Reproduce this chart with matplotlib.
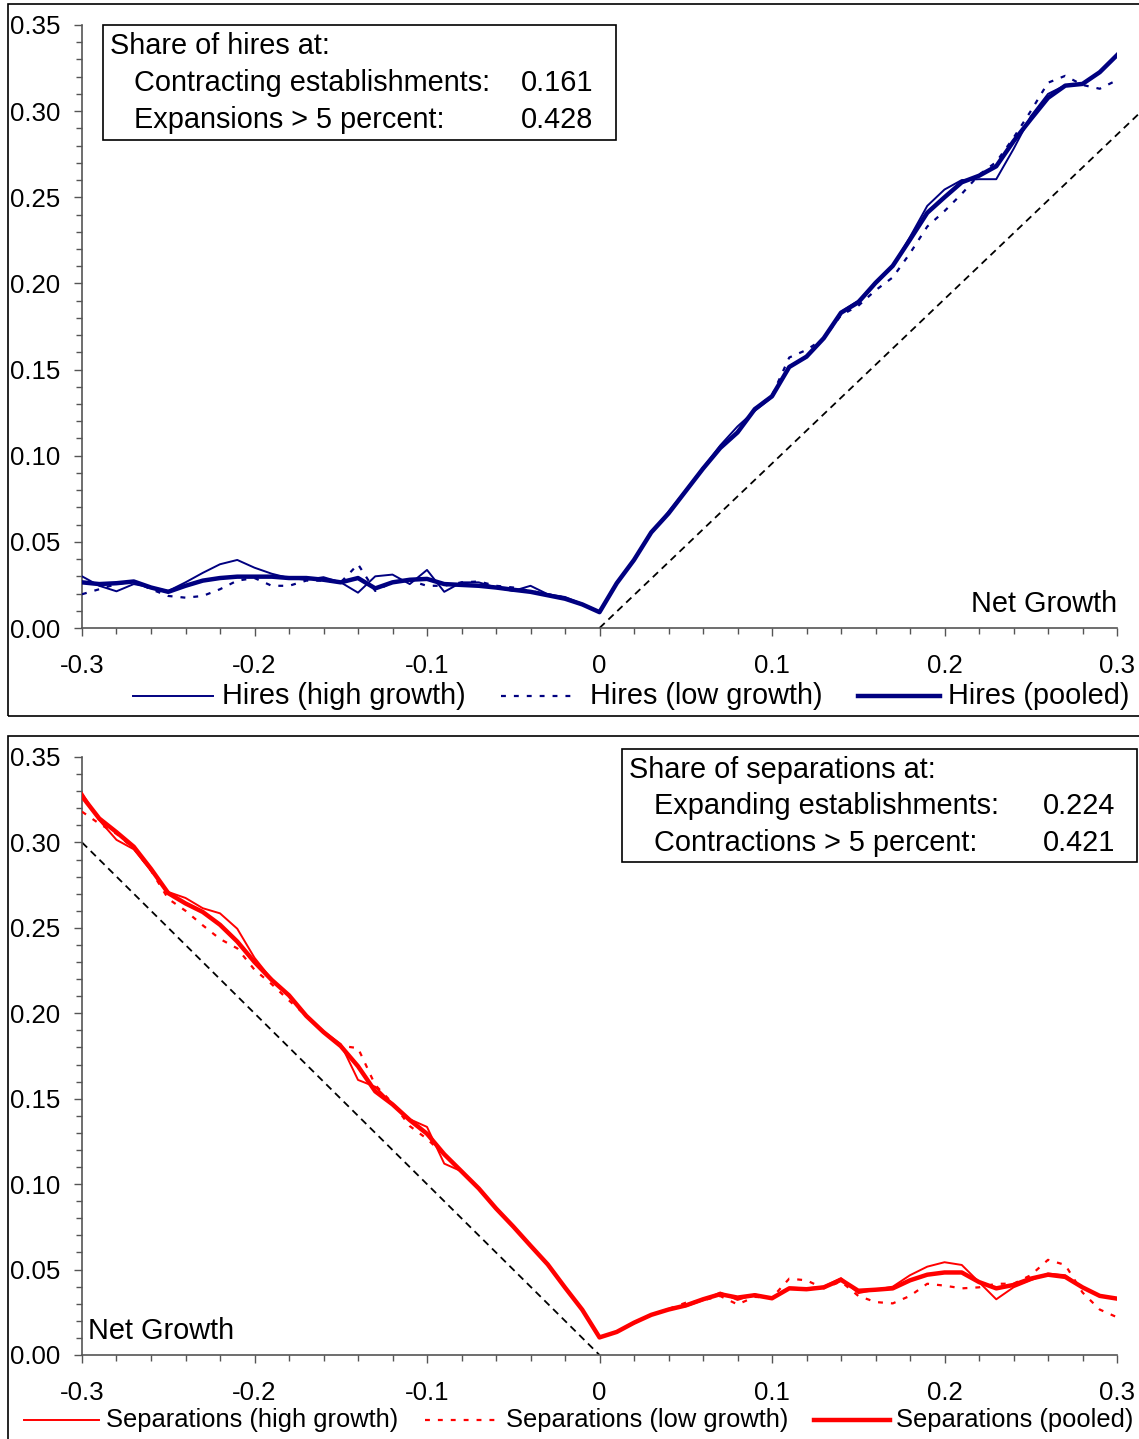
import numpy as np
import matplotlib
matplotlib.use('Agg')
import matplotlib.pyplot as plt
from matplotlib.lines import Line2D
from matplotlib.patches import Rectangle
from matplotlib.ticker import MultipleLocator, FuncFormatter

plt.rcParams['font.family'] = ['Liberation Sans', 'DejaVu Sans']

# ---------------- data ----------------
growth = np.round(np.arange(-0.30, 0.3001, 0.01), 2)

hires_high = [
    0.030, 0.0245, 0.0213, 0.0255, 0.0235, 0.0215, 0.0265, 0.032, 0.037, 0.0395,
    0.035, 0.0315, 0.029, 0.028, 0.0295, 0.0265, 0.0205, 0.030, 0.031, 0.0255,
    0.0337, 0.021, 0.0265, 0.0265, 0.0235, 0.0215, 0.0245, 0.0196, 0.018, 0.014,
    0.0095,
    0.026, 0.040, 0.055, 0.0675, 0.080, 0.093, 0.106, 0.117, 0.126, 0.134,
    0.152, 0.157, 0.168, 0.1835, 0.19, 0.200, 0.210, 0.227, 0.245, 0.2545,
    0.260, 0.2605, 0.2605, 0.278, 0.297, 0.310, 0.315, 0.3158, 0.3226, 0.3325]

hires_low = [
    0.0196, 0.0225, 0.0255, 0.027, 0.0225, 0.0186, 0.0176, 0.0186, 0.0225, 0.0275,
    0.029, 0.0245, 0.0245, 0.0275, 0.0275, 0.0265, 0.037, 0.0215, 0.0265, 0.0275,
    0.0245, 0.0245, 0.0265, 0.027, 0.0245, 0.0235, 0.0215, 0.0196, 0.0176, 0.0137,
    0.0094,
    0.0265, 0.039, 0.056, 0.067, 0.0795, 0.093, 0.1045, 0.113, 0.1275, 0.135,
    0.157, 0.1614, 0.168, 0.1815, 0.187, 0.196, 0.2035, 0.2175, 0.233, 0.242,
    0.252, 0.263, 0.2705, 0.2845, 0.300, 0.3165, 0.3205, 0.3152, 0.313, 0.318]

hires_pooled = [
    0.0265, 0.0255, 0.026, 0.027, 0.0235, 0.021, 0.0245, 0.0275, 0.029, 0.0298,
    0.0298, 0.0298, 0.029, 0.029, 0.028, 0.0265, 0.029, 0.023, 0.0265, 0.028,
    0.0285, 0.0255, 0.025, 0.0245, 0.0235, 0.0222, 0.021, 0.019, 0.017, 0.0137,
    0.0092,
    0.026, 0.0395, 0.0555, 0.0665, 0.0795, 0.0925, 0.1045, 0.1135, 0.127, 0.1345,
    0.1515, 0.1575, 0.1682, 0.183, 0.189, 0.2003, 0.2102, 0.2254, 0.241, 0.250,
    0.2587, 0.2625, 0.268, 0.2825, 0.2953, 0.3077, 0.3148, 0.3158, 0.3226, 0.3325]

sep_high = [
    0.329, 0.313, 0.3015, 0.296, 0.2835, 0.271, 0.2675, 0.2615, 0.2585, 0.2495,
    0.2325, 0.2198, 0.2105, 0.1985, 0.1895, 0.182, 0.161, 0.157, 0.147, 0.138,
    0.1335, 0.112, 0.1075, 0.0975, 0.0858, 0.0755, 0.064, 0.053, 0.0395, 0.0265,
    0.0105,
    0.0135, 0.019, 0.0235, 0.027, 0.0285, 0.032, 0.0366, 0.0322, 0.0355, 0.0332,
    0.0395, 0.039, 0.040, 0.045, 0.0362, 0.0382, 0.040, 0.0467, 0.0517, 0.0543,
    0.0527, 0.0427, 0.0326, 0.0396, 0.0437, 0.0477, 0.0467, 0.0396, 0.0346, 0.033]

sep_low = [
    0.318, 0.311, 0.305, 0.2965, 0.2835, 0.267, 0.260, 0.2515, 0.2435, 0.238,
    0.2255, 0.217, 0.2075, 0.1985, 0.189, 0.181, 0.1796, 0.158, 0.1475, 0.134,
    0.1265, 0.117, 0.1075, 0.0975, 0.086, 0.0755, 0.0645, 0.053, 0.0395, 0.0265,
    0.0105,
    0.0135, 0.0185, 0.0235, 0.027, 0.0306, 0.032, 0.0345, 0.0296, 0.034, 0.0335,
    0.0447, 0.0437, 0.039, 0.043, 0.0346, 0.031, 0.0302, 0.0346, 0.0417, 0.0406,
    0.039, 0.0396, 0.0417, 0.0417, 0.0467, 0.0557, 0.0527, 0.0366, 0.0266, 0.0221]

sep_pooled = [
    0.327, 0.314, 0.306, 0.2975, 0.2845, 0.2703, 0.2643, 0.2593, 0.2518, 0.2420,
    0.230, 0.2195, 0.2105, 0.1985, 0.189, 0.1808, 0.169, 0.1543, 0.1467, 0.1375,
    0.1295, 0.1175, 0.1075, 0.0975, 0.0858, 0.0752, 0.064, 0.053, 0.0395, 0.0265,
    0.0103,
    0.0135, 0.0189, 0.0235, 0.0266, 0.029, 0.0326, 0.0356, 0.0336, 0.035, 0.0332,
    0.039, 0.0385, 0.0396, 0.044, 0.0376, 0.0382, 0.039, 0.0437, 0.047, 0.0483,
    0.0483, 0.0427, 0.039, 0.041, 0.0447, 0.047, 0.0457, 0.0396, 0.0346, 0.033]

diag_top_x = [0.0, 0.3127]
diag_top_y = [0.0, 0.2985]
diag_bot_x = [-0.30, 0.0]
diag_bot_y = [0.30, 0.0]

hires_labels = ['Hires (high growth)', 'Hires (low growth)', 'Hires (pooled)']
sep_labels = ['Separations (high growth)', 'Separations (low growth)', 'Separations (pooled)']

hires_box = ['Share of hires at:', 'Contracting establishments:', 'Expansions > 5 percent:']
hires_box_vals = ['0.161', '0.428']
sep_box = ['Share of separations at:', 'Expanding establishments:', 'Contractions > 5 percent:']
sep_box_vals = ['0.224', '0.421']

# ---------------- figure ----------------
W, H = 1139, 1439
fig = plt.figure(figsize=(W / 100, H / 100), dpi=100)


def fx(px):
    return px / W


def fy(py):
    return 1 - py / H


NAVY = '#000080'
RED = '#FF0000'
AXC = '#555555'
FS = 20.8
LFS2 = 18.4
TFS = 18.6
THIN, DOT, THICK = 1.4, 1.6, 3.2
DOTSTYLE = (0, (2.2, 3.6))
DIAGSTYLE = (0, (4, 2.8))


def make_axes(top_px, bottom_px):
    ax = fig.add_axes([fx(82), fy(bottom_px), fx(1117) - fx(82), (bottom_px - top_px) / H])
    ax.set_xlim(-0.3, 0.3)
    ax.set_ylim(0, 0.35)
    ax.patch.set_alpha(0)
    for s in ['top', 'right']:
        ax.spines[s].set_visible(False)
    for s in ['left', 'bottom']:
        ax.spines[s].set_color(AXC)
        ax.spines[s].set_linewidth(1.2)
    ax.xaxis.set_major_locator(MultipleLocator(0.1))
    ax.xaxis.set_minor_locator(MultipleLocator(0.02))
    ax.yaxis.set_major_locator(MultipleLocator(0.05))
    ax.yaxis.set_minor_locator(MultipleLocator(0.01))
    ax.xaxis.set_major_formatter(FuncFormatter(lambda v, p: '0' if abs(v) < 1e-9 else f'{v:.1f}'))
    ax.yaxis.set_major_formatter(FuncFormatter(lambda v, p: f'{v:.2f}'))
    ax.tick_params(which='major', length=6, width=1.0, color=AXC, labelsize=TFS, direction='out')
    ax.tick_params(which='minor', length=4.5, width=1.0, color=AXC, direction='out')
    ax.tick_params(axis='x', which='major', pad=12.5)
    ax.tick_params(axis='y', which='major', pad=9.5)
    return ax


# frames
fig.add_artist(Rectangle((fx(8), fy(716)), fx(1160) - fx(8), fy(4) - fy(716),
                         transform=fig.transFigure, fill=False, edgecolor='black', lw=1.2))
fig.add_artist(Rectangle((fx(8), fy(1460)), fx(1160) - fx(8), fy(736) - fy(1460),
                         transform=fig.transFigure, fill=False, edgecolor='black', lw=1.2))

# ---------- top panel ----------
ax1 = make_axes(25, 628)
ax1.plot(diag_top_x, diag_top_y, color='black', lw=1.3, ls=DIAGSTYLE, clip_on=False, zorder=1)
ax1.plot(growth, hires_high, color=NAVY, lw=THIN, zorder=3)
ax1.plot(growth, hires_low, color=NAVY, lw=DOT, ls=DOTSTYLE, zorder=3)
ax1.plot(growth, hires_pooled, color=NAVY, lw=THICK, zorder=4)
ax1.text(0.3, 0.35 * (628 - 604) / 603, 'Net Growth', fontsize=FS, ha='right', va='center')

# box top
fig.add_artist(Rectangle((fx(103), fy(140)), fx(616) - fx(103), fy(25) - fy(140),
                         transform=fig.transFigure, fill=False, edgecolor='black', lw=1.2))
fig.text(fx(110), fy(46), hires_box[0], fontsize=FS, va='center')
fig.text(fx(134), fy(83), hires_box[1], fontsize=FS, va='center')
fig.text(fx(134), fy(120), hires_box[2], fontsize=FS, va='center')
fig.text(fx(593), fy(83), hires_box_vals[0], fontsize=FS, va='center', ha='right')
fig.text(fx(593), fy(120), hires_box_vals[1], fontsize=FS, va='center', ha='right')

# legend top
ly = fy(696)
for (x0, x1, tx), lab, kw in zip([(133, 213, 222), (501, 578, 590), (858, 940, 948)], hires_labels,
                                 [dict(lw=THIN), dict(lw=DOT, ls=DOTSTYLE), dict(lw=THICK)]):
    fig.add_artist(Line2D([fx(x0), fx(x1)], [ly, ly], color=NAVY, transform=fig.transFigure, **kw))
    fig.text(fx(tx), ly, lab, fontsize=FS, va='center')

# ---------- bottom panel ----------
ax2 = make_axes(757, 1355)
ax2.plot(diag_bot_x, diag_bot_y, color='black', lw=1.3, ls=DIAGSTYLE, zorder=1)
ax2.plot(growth, sep_high, color=RED, lw=THIN, zorder=3)
ax2.plot(growth, sep_low, color=RED, lw=DOT, ls=DOTSTYLE, zorder=3)
ax2.plot(growth, sep_pooled, color=RED, lw=THICK, zorder=4)
ax2.text(-0.3 + 6 / 1725, 0.35 * (1355 - 1331) / 598, 'Net Growth', fontsize=FS, ha='left', va='center')

fig.add_artist(Rectangle((fx(622), fy(862)), fx(1137) - fx(622), fy(749) - fy(862),
                         transform=fig.transFigure, fill=False, edgecolor='black', lw=1.2))
fig.text(fx(629), fy(770), sep_box[0], fontsize=FS, va='center')
fig.text(fx(654), fy(806), sep_box[1], fontsize=FS, va='center')
fig.text(fx(654), fy(843), sep_box[2], fontsize=FS, va='center')
fig.text(fx(1115), fy(806), sep_box_vals[0], fontsize=FS, va='center', ha='right')
fig.text(fx(1115), fy(843), sep_box_vals[1], fontsize=FS, va='center', ha='right')

ly = fy(1420)
for (x0, x1, tx), lab, kw in zip([(24, 99, 106), (425, 500, 506), (814, 890, 896)], sep_labels,
                                 [dict(lw=THIN), dict(lw=DOT, ls=DOTSTYLE), dict(lw=THICK)]):
    fig.add_artist(Line2D([fx(x0), fx(x1)], [ly, ly], color=RED, transform=fig.transFigure, **kw))
    fig.text(fx(tx), ly, lab, fontsize=LFS2, va='center')

fig.savefig('out.png', dpi=100)
